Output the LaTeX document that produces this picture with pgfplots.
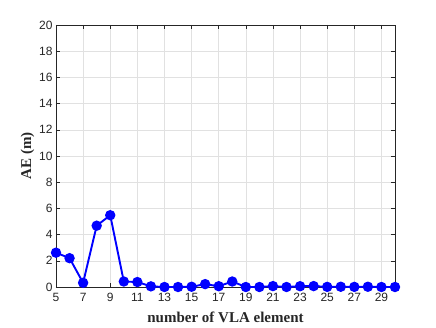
\documentclass[border=0pt]{standalone}
\usepackage{fontspec}
\setmainfont{Liberation Sans}
\newfontfamily\labelfont{Liberation Serif}
\usepackage{pgfplots}
\pgfplotsset{compat=1.18}
\definecolor{axgray}{RGB}{38,38,38}
\definecolor{gridgray}{RGB}{225,225,225}

\begin{document}
\begin{tikzpicture}
\begin{axis}[
    scale only axis,
    width=339pt, height=262pt,
    xmin=5, xmax=30, ymin=0, ymax=20,
    xtick={5,7,...,29}, ytick={0,2,...,20},
    grid=major,
    major grid style={gridgray, line width=0.5pt},
    axis line style={axgray, line width=0.5pt},
    tick style={axgray, line width=0.5pt},
    tick align=inside,
    major tick length=4pt,
    tick label style={font=\fontsize{12}{14}\selectfont, text=axgray},
    xticklabel style={yshift=-3pt},
    /pgf/number format/assume math mode=true,
    xlabel={\labelfont\bfseries number of VLA element},
    ylabel={\labelfont\bfseries AE (m)},
    label style={font=\fontsize{15}{17}\selectfont, text=axgray},
    xlabel style={yshift=-3pt},
    ylabel style={yshift=-2pt},
    clip=false,
]
\addplot[blue, line width=1.9pt, mark=*, mark size=4.2pt, mark options={fill=blue, draw=blue}]
coordinates {
(5,2.62) (6,2.2) (7,0.32) (8,4.68) (9,5.48) (10,0.42) (11,0.38) (12,0.05)
(13,0.0) (14,0.0) (15,0.02) (16,0.22) (17,0.06) (18,0.42) (19,0.0) (20,0.0)
(21,0.07) (22,0.0) (23,0.06) (24,0.07) (25,0.01) (26,0.02) (27,0.01) (28,0.02)
(29,0.0) (30,0.0)
};
\end{axis}
\path ([xshift=-56pt,yshift=-40pt]current axis.south west) rectangle ([xshift=41pt,yshift=25pt]current axis.north east);
\end{tikzpicture}
\end{document}
